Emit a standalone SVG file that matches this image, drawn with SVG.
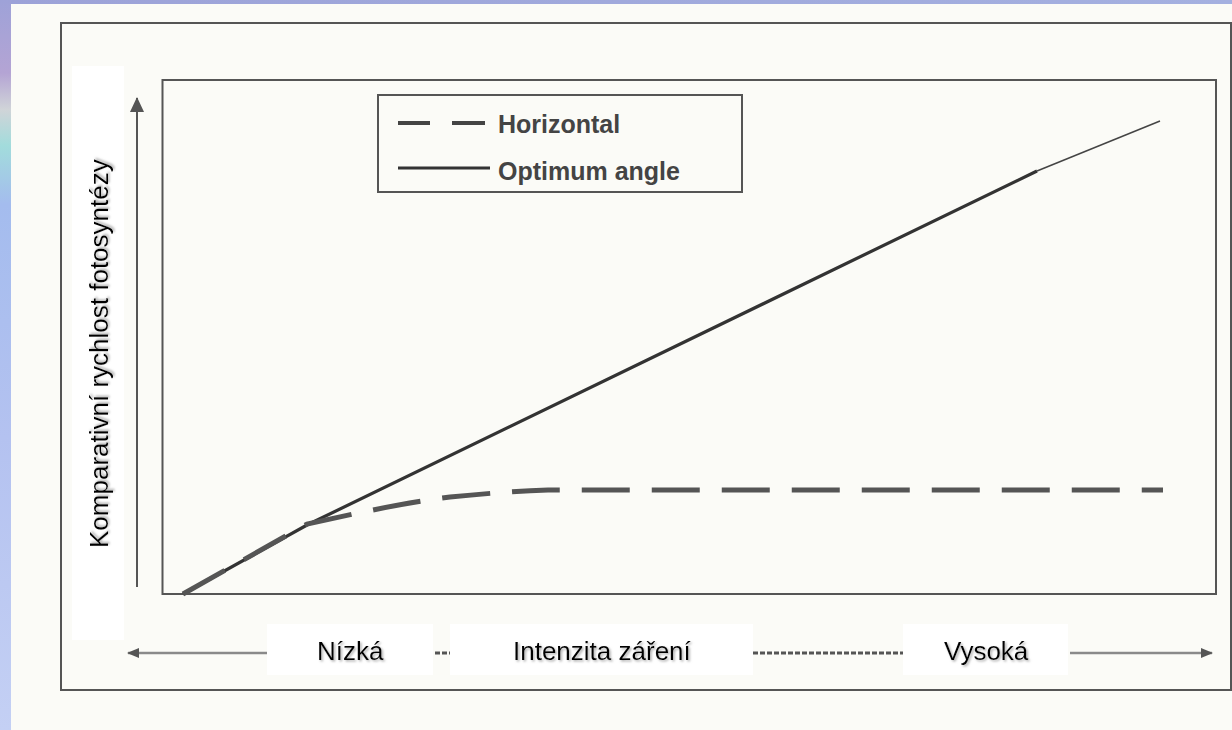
<svg xmlns="http://www.w3.org/2000/svg" width="1232" height="730" viewBox="0 0 1232 730">
  <defs>
    <linearGradient id="leftStrip" x1="0" y1="0" x2="0" y2="1">
      <stop offset="0" stop-color="#9ea2d8"/>
      <stop offset="0.1" stop-color="#b4a4d4"/>
      <stop offset="0.15" stop-color="#d0d4d8"/>
      <stop offset="0.2" stop-color="#a2dcdc"/>
      <stop offset="0.28" stop-color="#a4bcee"/>
      <stop offset="0.6" stop-color="#b4c2f0"/>
      <stop offset="1" stop-color="#c4d0f4"/>
    </linearGradient>
    <linearGradient id="topStrip" x1="0" y1="0" x2="1" y2="0">
      <stop offset="0" stop-color="#9ca2d8"/>
      <stop offset="1" stop-color="#a4b0e0"/>
    </linearGradient>
    <filter id="shadow" x="-10%" y="-20%" width="120%" height="150%">
      <feDropShadow dx="1.5" dy="1.5" stdDeviation="0.8" flood-color="#999" flood-opacity="0.8"/>
    </filter>
    <marker id="arrowHead" viewBox="0 0 12 10" refX="11" refY="5" markerWidth="12" markerHeight="10" markerUnits="userSpaceOnUse" orient="auto">
      <path d="M0,0 L12,5 L0,10 Z" fill="#555"/>
    </marker>
    <marker id="arrowHeadBig" viewBox="0 0 15 14" refX="14" refY="7" markerWidth="15" markerHeight="14" markerUnits="userSpaceOnUse" orient="auto">
      <path d="M0,0 L15,7 L0,14 Z" fill="#555"/>
    </marker>
    <style>
      .frame { fill: none; stroke: #555; stroke-width: 2; }
      .legendText { font-family: "Liberation Sans", Arial, sans-serif; font-weight: bold; font-size: 25px; fill: #444; }
      .axisText { font-family: "Liberation Sans", Arial, sans-serif; font-size: 26px; fill: #000; filter: url(#shadow); }
      .axisLine { stroke: #8a8a8a; stroke-width: 2.5; fill: none; }
      .dotLine { stroke: #555; stroke-width: 3; stroke-dasharray: 5 2; fill: none; }
    </style>
  </defs>

  <!-- background -->
  <rect x="0" y="0" width="1232" height="730" fill="#fbfbf7"/>
  <rect x="0" y="0" width="1232" height="4" fill="url(#topStrip)"/>
  <rect x="0" y="0" width="11" height="730" fill="url(#leftStrip)"/>

  <!-- frames -->
  <g id="frames">
    <rect class="frame" x="61" y="23" width="1170" height="667"/>
    <rect class="frame" x="162.5" y="80" width="1053.5" height="514"/>
  </g>

  <!-- white text boxes -->
  <g id="textBoxes" fill="#ffffff">
    <rect x="72" y="66" width="52" height="574"/>
    <rect x="267" y="624" width="166" height="51"/>
    <rect x="450" y="624" width="303" height="51"/>
    <rect x="903" y="624" width="165" height="51"/>
  </g>

  <!-- legend -->
  <g id="legend">
    <rect class="frame" x="378" y="95" width="364" height="97"/>
    <line x1="398" y1="123" x2="430" y2="123" stroke="#444" stroke-width="4"/>
    <line x1="452" y1="123" x2="485" y2="123" stroke="#444" stroke-width="4"/>
    <text class="legendText" x="498" y="133">Horizontal</text>
    <line x1="398" y1="168" x2="490" y2="168" stroke="#333" stroke-width="3"/>
    <text class="legendText" x="498" y="180">Optimum angle</text>
  </g>

  <!-- axes -->
  <g id="axes">
    <line x1="137" y1="587" x2="137" y2="98" stroke="#555" stroke-width="2" marker-end="url(#arrowHeadBig)"/>
    <line class="axisLine" x1="267" y1="653" x2="128" y2="653" marker-end="url(#arrowHead)"/>
    <line class="dotLine" x1="435" y1="653" x2="450" y2="653"/>
    <line class="dotLine" x1="753" y1="653" x2="903" y2="653"/>
    <line class="axisLine" x1="1070" y1="653" x2="1212" y2="653" marker-end="url(#arrowHead)"/>
  </g>

  <!-- axis labels -->
  <g id="labels">
    <text class="axisText" transform="translate(108,548) rotate(-90)" x="0" y="0">Komparativní rychlost fotosyntézy</text>
    <text class="axisText" x="317" y="660">Nízká</text>
    <text class="axisText" x="513" y="660">Intenzita záření</text>
    <text class="axisText" x="944" y="660">Vysoká</text>
  </g>

  <!-- curves -->
  <g id="curves" fill="none" stroke-linecap="butt">
    <polyline id="optimum" points="183,594 307,525 1037,171" stroke="#333" stroke-width="3.2"/>
    <line x1="1037" y1="171" x2="1160" y2="121" stroke="#444" stroke-width="1.5"/>
    <path id="horizontal" d="M183,594 L307,524 C345,516 400,503 450,497 C490,493 520,491 548,490 L1163,490" stroke="#555" stroke-width="5" stroke-dasharray="48 22"/>
  </g>
</svg>
